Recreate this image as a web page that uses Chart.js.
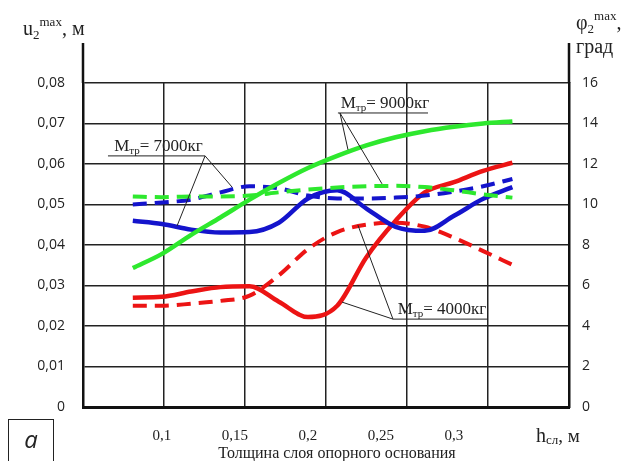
<!DOCTYPE html>
<html>
<head>
<meta charset="utf-8">
<script src="https://cdn.jsdelivr.net/npm/chart.js"></script>
<style>
  html, body { margin: 0; padding: 0; background: #fff; }
</style>
</head>
<body>
<canvas id="myChart" width="628" height="461"></canvas>
<script>
// толщина слоя, м
const thickness = [0.08, 0.10, 0.12, 0.14, 0.16, 0.18, 0.20, 0.22, 0.24, 0.26, 0.28, 0.30, 0.32, 0.34];

// Mтр = 4000 кг
const m4000Solid  = [0.0270, 0.0272, 0.0285, 0.0296, 0.0298, 0.0260, 0.0222, 0.0250, 0.0370, 0.0460, 0.0530, 0.0555, 0.0583, 0.0603];
const m4000Dashed = [0.0250, 0.0250, 0.0255, 0.0262, 0.0275, 0.0325, 0.0390, 0.0432, 0.0450, 0.0455, 0.0445, 0.0418, 0.0385, 0.0351];
// Mтр = 7000 кг
const m7000Solid  = [0.0460, 0.0452, 0.0438, 0.0431, 0.0432, 0.0455, 0.0515, 0.0535, 0.0490, 0.0445, 0.0435, 0.0472, 0.0514, 0.0543];
const m7000Dashed = [0.0500, 0.0505, 0.0512, 0.0530, 0.0545, 0.0540, 0.0522, 0.0515, 0.0515, 0.0517, 0.0522, 0.0532, 0.0545, 0.0563];
// Mтр = 9000 кг
const m9000Solid  = [0.0343, 0.0378, 0.0425, 0.0468, 0.0512, 0.0553, 0.0590, 0.0620, 0.0646, 0.0666, 0.0681, 0.0692, 0.0700, 0.0705];
const m9000Dashed = [0.0520, 0.0518, 0.0520, 0.0520, 0.0522, 0.0530, 0.0537, 0.0542, 0.0545, 0.0546, 0.0543, 0.0535, 0.0525, 0.0517];

const xTickValues = [0.1, 0.15, 0.2, 0.25, 0.3];
const leftTicks = [0, 0.01, 0.02, 0.03, 0.04, 0.05, 0.06, 0.07, 0.08];
const rightTicks = [0, 2, 4, 6, 8, 10, 12, 14, 16];

const RED = '#ec1414', BLUE = '#1414cc', GREEN = '#2ee82e';
const SERIF = '"Liberation Serif", "DejaVu Serif", serif';

function pts(arr) {
  return thickness.map((h, i) => ({ x: h, y: arr[i] }));
}

function line(data, color, dashed) {
  return {
    data: pts(data),
    borderColor: color,
    borderWidth: dashed ? 4 : 4.5,
    borderDash: dashed ? [14, 8] : [],
    pointRadius: 0,
    fill: false,
    cubicInterpolationMode: 'monotone',
    xAxisID: 'x',
    yAxisID: 'y'
  };
}

// leader annotations, in data units
const notes = [
  { text: '7000кг', x1: 0.0630, x2: 0.1295, y: 0.0620, from: [0.1295, 0.0620],
    to: [[0.1480, 0.0543], [0.1103, 0.0447]] },
  { text: '9000кг', x1: 0.2205, x2: 0.2822, y: 0.0726, from: [0.2219, 0.0726],
    to: [[0.2274, 0.0635], [0.2507, 0.0551]] },
  { text: '4000кг', x1: 0.2582, x2: 0.3226, y: 0.0217, from: [0.2582, 0.0217],
    to: [[0.2233, 0.0259], [0.2342, 0.0449]] }
];

function rich(ctx, x, y, parts, align) {
  let w = 0;
  parts.forEach(p => { ctx.font = p.font; w += ctx.measureText(p.t).width; });
  let cx = align === 'center' ? x - w / 2 : x;
  ctx.textAlign = 'left';
  ctx.textBaseline = 'alphabetic';
  parts.forEach(p => {
    ctx.font = p.font;
    ctx.fillText(p.t, cx, y + (p.dy || 0));
    cx += ctx.measureText(p.t).width;
  });
}

const extras = {
  id: 'extras',
  afterDatasetsDraw(chart) {
    const ctx = chart.ctx;
    const sx = chart.scales.x, sy = chart.scales.y;
    ctx.save();
    ctx.strokeStyle = '#222';
    ctx.fillStyle = '#222';
    ctx.lineWidth = 1;
    notes.forEach(n => {
      const yy = sy.getPixelForValue(n.y);
      const a = sx.getPixelForValue(n.x1), b = sx.getPixelForValue(n.x2);
      ctx.beginPath();
      ctx.moveTo(a, yy); ctx.lineTo(b, yy);
      const fx = sx.getPixelForValue(n.from[0]), fy = sy.getPixelForValue(n.from[1]);
      n.to.forEach(t => {
        ctx.moveTo(fx, fy);
        ctx.lineTo(sx.getPixelForValue(t[0]), sy.getPixelForValue(t[1]));
      });
      ctx.stroke();
      rich(ctx, (a + b) / 2 + 2, yy - 5, [
        { t: 'M', font: '17px ' + SERIF },
        { t: 'тр', font: '11px ' + SERIF, dy: 3 },
        { t: '= ' + n.text, font: '17px ' + SERIF }
      ], 'center');
    });
    ctx.restore();
  },
  afterDraw(chart) {
    const ctx = chart.ctx;
    const ca = chart.chartArea;
    ctx.save();
    // axis lines continue above the grid
    ctx.strokeStyle = '#111';
    ctx.lineWidth = 2.5;
    ctx.beginPath();
    ctx.moveTo(ca.left, ca.top - 40); ctx.lineTo(ca.left, ca.top);
    ctx.moveTo(ca.right, ca.top - 40); ctx.lineTo(ca.right, ca.top);
    ctx.stroke();

    ctx.fillStyle = '#222';
    rich(ctx, 23, 35, [
      { t: 'u', font: '20px ' + SERIF },
      { t: '2', font: '13px ' + SERIF, dy: 4 },
      { t: 'max', font: '13px ' + SERIF, dy: -9 },
      { t: ', м', font: '20px ' + SERIF }
    ]);
    rich(ctx, 576, 29, [
      { t: 'φ', font: '20px ' + SERIF },
      { t: '2', font: '13px ' + SERIF, dy: 4 },
      { t: 'max', font: '13px ' + SERIF, dy: -9 },
      { t: ',', font: '20px ' + SERIF }
    ]);
    rich(ctx, 576, 53, [{ t: 'град', font: '20px ' + SERIF }]);
    rich(ctx, 536, 442, [
      { t: 'h', font: '20px ' + SERIF },
      { t: 'сл', font: '13px ' + SERIF, dy: 2 },
      { t: ', м', font: '19px ' + SERIF }
    ]);
    rich(ctx, 337, 458, [{ t: 'Толщина слоя опорного основания', font: '16px ' + SERIF }], 'center');

    // panel letter
    ctx.strokeStyle = '#222';
    ctx.lineWidth = 1;
    ctx.strokeRect(8.5, 419.5, 45, 50);
    ctx.font = 'italic 24px "Open Sans", sans-serif';
    ctx.textAlign = 'center';
    ctx.textBaseline = 'middle';
    ctx.fillText('a', 31, 441);
    ctx.restore();
  }
};

new Chart(document.getElementById('myChart'), {
  type: 'line',
  data: {
    datasets: [
      line(m9000Solid, GREEN, false),
      line(m9000Dashed, GREEN, true),
      line(m7000Solid, BLUE, false),
      line(m7000Dashed, BLUE, true),
      line(m4000Solid, RED, false),
      line(m4000Dashed, RED, true)
    ]
  },
  options: {
    responsive: false,
    animation: false,
    layout: { padding: { top: 83, left: 0, right: 0, bottom: 0 } },
    plugins: { legend: { display: false }, tooltip: { enabled: false } },
    scales: {
      x: {
        type: 'linear',
        position: 'bottom',
        min: 0.04589,
        max: 0.37877,
        afterBuildTicks: s => { s.ticks = xTickValues.map(v => ({ value: v })); },
        afterFit: s => { s.height = 54; },
        ticks: {
          autoSkip: false,
          maxRotation: 0,
          padding: 20,
          color: '#222',
          font: { family: SERIF, size: 15 },
          callback: v => String(v).replace('.', ',')
        },
        grid: { display: false, drawTicks: false },
        border: { color: '#111', width: 3 }
      },
      xGrid: {
        type: 'linear',
        position: 'bottom',
        min: 0,
        max: 6,
        afterFit: s => { s.height = 0; },
        ticks: { display: false, stepSize: 1 },
        grid: { color: '#222', lineWidth: 1.5, drawTicks: false },
        border: { display: false }
      },
      y: {
        position: 'left',
        min: 0,
        max: 0.08,
        afterBuildTicks: s => { s.ticks = leftTicks.map(v => ({ value: v })); },
        afterFit: s => { s.width = 83; },
        ticks: {
          padding: 18,
          color: '#222',
          font: { family: '"Open Sans", sans-serif', size: 14 },
          callback: v => v === 0 ? '0' : v.toFixed(2).replace('.', ',')
        },
        grid: { color: '#222', lineWidth: 1.5, drawTicks: false },
        border: { color: '#111', width: 2.5 }
      },
      y2: {
        position: 'right',
        min: 0,
        max: 16,
        afterBuildTicks: s => { s.ticks = rightTicks.map(v => ({ value: v })); },
        afterFit: s => { s.width = 59; },
        ticks: {
          padding: 13,
          color: '#222',
          font: { family: '"Open Sans", sans-serif', size: 14 },
          callback: v => String(v)
        },
        grid: { display: false, drawTicks: false },
        border: { color: '#111', width: 2.5 }
      }
    }
  },
  plugins: [extras]
});
</script>
</body>
</html>
